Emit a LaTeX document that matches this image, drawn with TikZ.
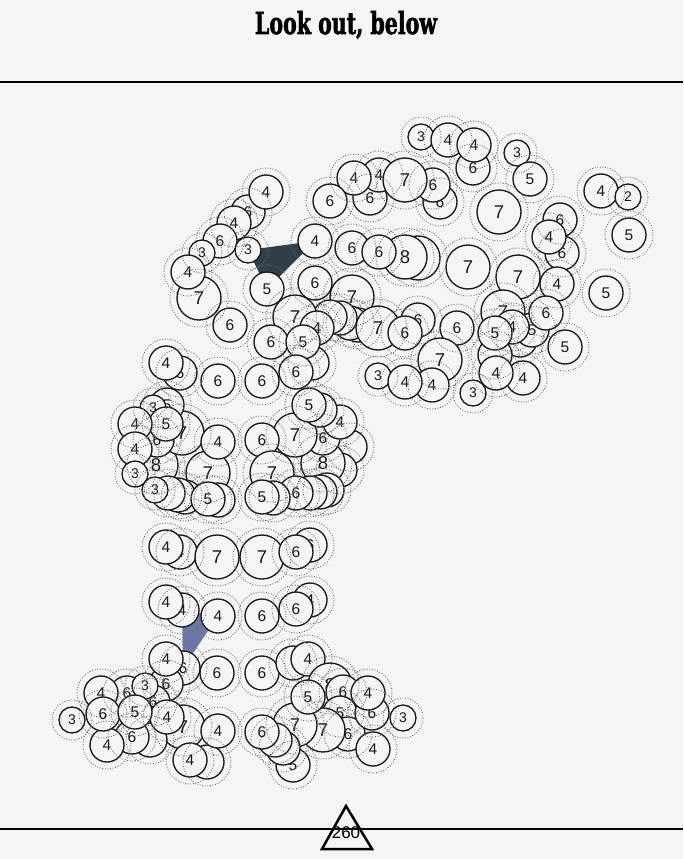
\documentclass[tikz,border=0pt]{standalone}
\usepackage{fontspec}
\setmainfont{Liberation Sans}
\newfontfamily\titlefont[BoldFeatures={FakeBold=2.2}]{DejaVu Serif}
\definecolor{bgc}{HTML}{F6F4F5}
\definecolor{ink}{HTML}{1A1A1A}
\definecolor{darkpoly}{HTML}{2F3E48}
\definecolor{bluepoly}{HTML}{6C79A8}
\tikzset{
  ring/.style={draw=ink, line width=1.35pt},
  dotring/.style={draw=black!58, line width=0.9pt, dash pattern=on 0.9pt off 1.7pt},
  lab/.style={inner sep=0pt, text=ink},
  rule/.style={draw=black, line width=2pt},
}
% x/y/label/radius ; label 0 = label fully hidden
\def\circlist{248/212/6/17, 199/298/7/22, 234/223/4/17, 220/241/6/17, 202/253/3/13, 188/272/4/17, 266/192/4/17, 230/325/6/17,
370/198/6/17, 379/175/4/17, 354/178/4/17, 330/201/6/17, 440/202/6/17, 433/185/6/17, 405/180/7/22, 421/137/3/13, 473/168/6/17, 448/140/4/17, 474/145/4/17, 517/153/3/13, 530/179/5/17, 499/212/7/22,
560/220/6/17, 562/253/6/17, 549/237/4/17, 601/191/4/17, 628/197/2/13, 629/235/5/17, 468/267/7/22, 518/277/7/22, 557/284/4/17, 606/293/5/17,
418/258/0/22, 405/257/8/22, 352/248/6/17, 379/252/6/17, 352/297/7/22, 315/283/6/17, 248/250/3/13, 315/241/4/17, 267/289/5/17,
312/363/0/17, 358/325/0/17, 350/323/0/17, 340/318/0/17, 330/317/0/17, 295/317/7/22, 317/328/4/17, 271/342/6/17, 303/342/5/17,
418/320/6/17, 378/328/7/22, 405/333/6/17, 457/328/6/17, 440/360/7/22, 378/376/3/13, 432/385/4/17, 405/382/4/17,
503/312/7/22, 520/340/0/17, 532/330/5/17, 512/327/4/17, 546/313/6/17, 495/355/0/17, 495/333/5/17, 523/378/4/17, 496/373/4/17, 473/393/3/13, 565/347/5/17,
180/373/6/17, 166/363/4/17, 218/381/6/17, 262/381/6/17, 296/372/6/17,
350/447/0/17, 340/470/0/17, 323/463/8/22, 323/438/6/17, 340/422/4/17, 295/435/7/22, 320/410/0/17, 309/405/5/17, 262/440/6/17, 272/473/7/22, 327/490/0/17, 320/492/0/17, 310/493/0/17, 296/493/6/17, 273/498/0/17, 262/497/5/17,
156/465/8/22, 182/433/7/22, 208/473/7/22, 218/442/4/17, 167/405/5/17, 153/408/3/13, 157/440/6/17, 166/424/5/17, 135/424/4/17, 135/449/4/17, 135/474/3/13, 185/497/0/17, 178/495/0/17, 168/493/0/17, 155/490/3/13, 218/500/0/17, 208/499/5/17,
180/552/4/17, 166/547/4/17, 217/557/7/22, 262/557/7/22, 310/545/6/17, 296/552/6/17,
182/610/4/17, 166/602/4/17, 218/616/4/17, 262/616/6/17, 310/600/4/17, 296/609/6/17,
183/668/6/17, 166/684/6/17, 166/659/4/17, 217/673/6/17, 262/673/6/17,
293/663/0/17, 308/659/4/17, 330/685/8/22, 343/692/6/17, 340/713/5/17, 348/734/6/17, 372/713/6/17, 323/730/7/22, 293/765/5/17, 295/725/7/22, 283/748/0/17, 275/740/0/17, 262/732/6/17, 308/697/5/17, 368/693/4/17, 373/749/4/17, 403/718/3/13,
127/693/6/17, 101/693/4/17, 153/702/6/17, 145/686/3/13, 183/727/7/22, 150/740/0/17, 132/737/6/17, 107/745/4/17, 207/762/0/17, 190/760/4/17, 167/717/4/17, 103/714/6/17, 135/712/5/17, 72/720/3/13, 218/731/4/17}
\begin{document}
\begin{tikzpicture}[x=1pt,y=-1pt]
\useasboundingbox (0,0) rectangle (683,859);
\fill[bgc] (0,0) rectangle (683,859);
% title and rules
\node[anchor=base] (title) at (346,34) {\resizebox{182pt}{23pt}{\titlefont\bfseries Look out, below}};
\coordinate (topL) at (0,82); \coordinate (topR) at (683,82);
\draw[rule] (topL) -- (topR);
% highlighted polygons (under the circles)
\fill[darkpoly] (248,250) -- (315,241) -- (267,289) -- cycle;
\fill[bluepoly] (182,610) -- (218,616) -- (183,668) -- cycle;
% circles
\foreach \qx/\qy/\ql/\qr [count=\i] in \circlist {
  \fill[bgc] (\qx,\qy) circle[radius=\qr];
  \draw[ring] (\qx,\qy) circle[radius=\qr];
  \ifnum\qr=22 \def\fs{\fontsize{18.5}{18}\selectfont}\else\ifnum\qr=13 \def\fs{\fontsize{14}{14}\selectfont}\else\def\fs{\fontsize{15.5}{15}\selectfont}\fi\fi
  \ifnum\ql>0 \node[lab] (n\i) at (\qx,\qy) {\fs\ql};\fi
}
\foreach \qx/\qy/\ql/\qr in \circlist {
  \draw[dotring] (\qx,\qy) circle[radius=\qr+7];
}
% bottom rule and marker
\coordinate (botL) at (0,829); \coordinate (botR) at (683,829);
\draw[rule] (botL) -- (botR);
\draw[draw=black, line width=2.5pt, line join=miter] (346,806) -- (322,849) -- (372,849) -- cycle;
\node[lab, text=black] (val) at (346,833) {\fontsize{17}{17}\selectfont 260};
\end{tikzpicture}
\end{document}
